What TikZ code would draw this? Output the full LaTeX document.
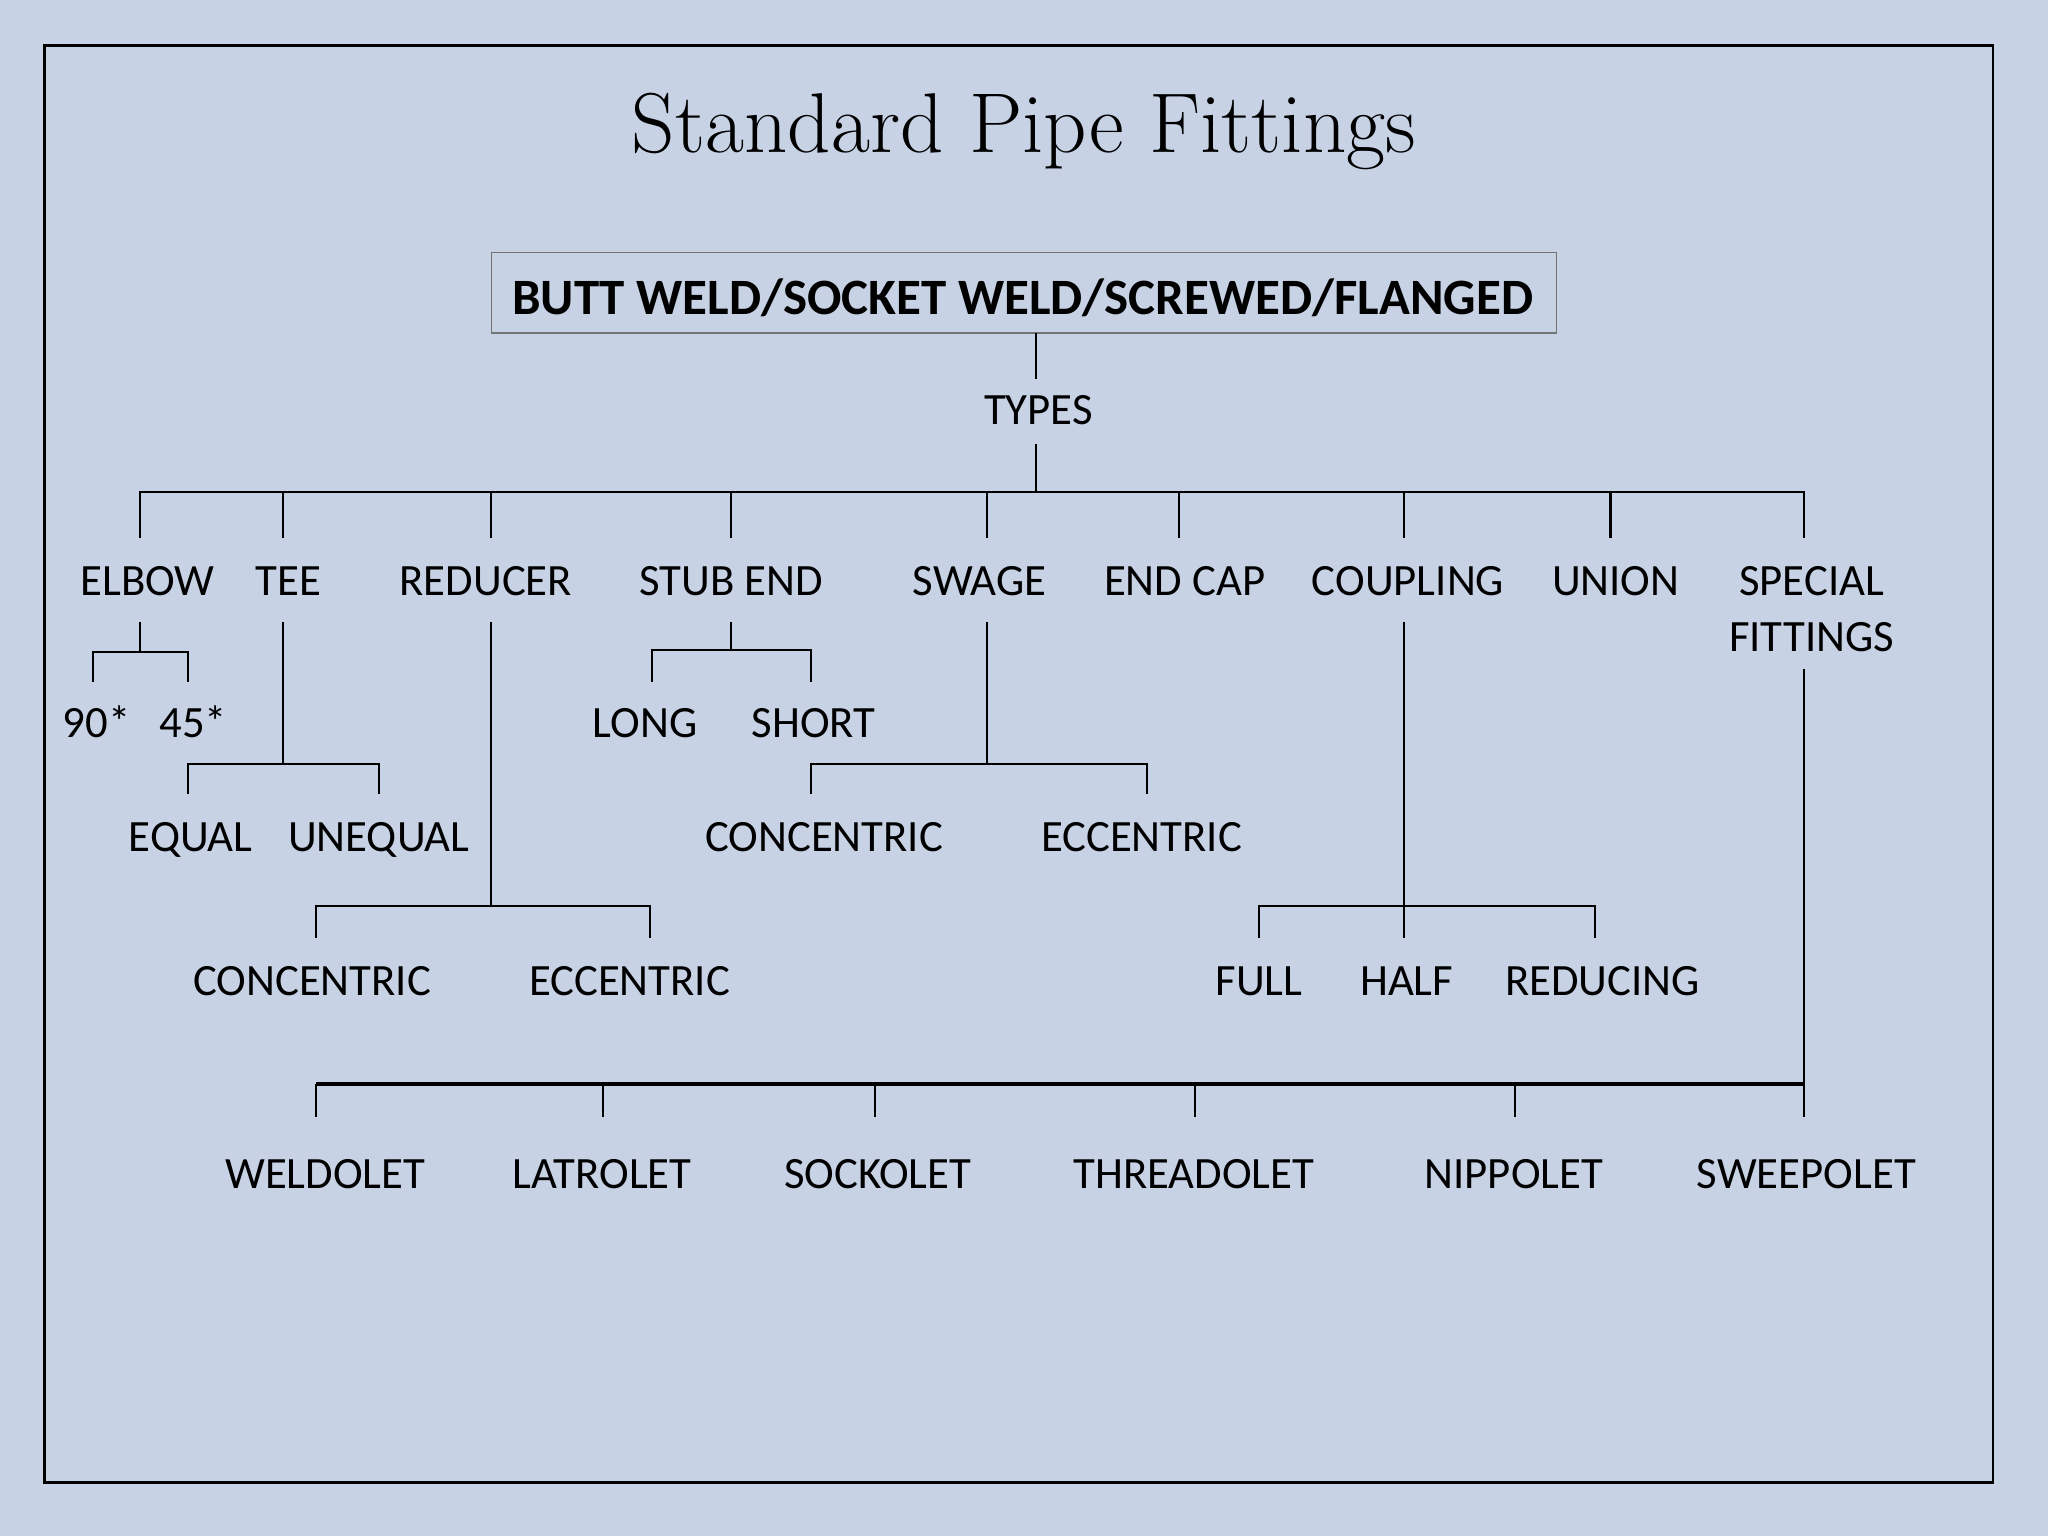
\documentclass[tikz,border=0pt]{standalone}
\usepackage{fontspec}
\newfontfamily\carl{Carlito}
\definecolor{bgblue}{RGB}{199,210,229}
\begin{document}
\begin{tikzpicture}[x=0.02cm,y=-0.02cm,
  lab/.style={font=\carl\fontsize{19.5}{24.4}\selectfont, anchor=base, inner sep=0pt},
  ln/.style={line width=0.9pt, black},
  busln/.style={line width=1.4pt, black}]
\useasboundingbox (0,0) rectangle (1568,1176);
\fill[bgblue] (0,0) rectangle (1568,1176);
\draw[line width=1.1pt] (34,35) rectangle (1526,1135);

\node[anchor=base, inner sep=0pt, font=\fontsize{37}{44}\selectfont] (title) at (784,117) {Standard Pipe Fittings};

\draw[line width=0.5pt, black!55] (376,193) rectangle (1192,255);
\node[lab, font=\carl\bfseries\fontsize{22.2}{26}\selectfont] (top) at (783,241) {BUTT WELD/SOCKET WELD/SCREWED/FLANGED};
\node[lab] (types) at (795,325) {TYPES};

% level 1
\node[lab] (elbow) at (113,456) {ELBOW};
\node[lab] (tee) at (221,456) {TEE};
\node[lab] (reducer) at (372,456) {REDUCER};
\node[lab] (stub) at (560,456) {STUB END};
\node[lab] (swage) at (750,456) {SWAGE};
\node[lab] (endcap) at (907,456) {END CAP};
\node[lab] (coupling) at (1078,456) {COUPLING};
\node[lab] (union) at (1237,456) {UNION};
\node[lab] (special) at (1387,456) {SPECIAL};
\node[lab] (fittings) at (1387,499) {FITTINGS};

% level 2
\node[lab] (e90) at (74,565) {90*};
\node[lab] (e45) at (148,565) {45*};
\node[lab] (long) at (494,565) {LONG};
\node[lab] (short) at (623,565) {SHORT};
\node[lab] (equal) at (146,652) {EQUAL};
\node[lab] (unequal) at (290,652) {UNEQUAL};
\node[lab] (sconc) at (631,652) {CONCENTRIC};
\node[lab] (secc) at (874,652) {ECCENTRIC};
\node[lab] (rconc) at (239,762) {CONCENTRIC};
\node[lab] (recc) at (482,762) {ECCENTRIC};
\node[lab] (full) at (964,762) {FULL};
\node[lab] (half) at (1077,762) {HALF};
\node[lab] (reducing) at (1227,762) {REDUCING};

% special fittings
\node[lab] (weldolet) at (249,910) {WELDOLET};
\node[lab] (latrolet) at (461,910) {LATROLET};
\node[lab] (sockolet) at (672,910) {SOCKOLET};
\node[lab] (threadolet) at (914,910) {THREADOLET};
\node[lab] (nippolet) at (1159,910) {NIPPOLET};
\node[lab] (sweepolet) at (1383,910) {SWEEPOLET};

% spine
\draw[ln] (793,255) -- (793,290);
\draw[ln] (793,340) -- (793,377);
\draw[ln] (107,412) -- (107,377) -- (1381,377) -- (1381,412);
\foreach \x in {217,376,560,756,903,1075,1233}
  \draw[ln] (\x,377) -- (\x,412);

% elbow
\draw[ln] (107,476) -- (107,499);
\draw[ln] (71,522) -- (71,499) -- (144,499) -- (144,522);
% tee
\draw[ln] (217,476) -- (217,585);
\draw[ln] (144,608) -- (144,585) -- (290,585) -- (290,608);
% reducer
\draw[ln] (376,476) -- (376,694);
\draw[ln] (242,718) -- (242,694) -- (498,694) -- (498,718);
% stub end
\draw[ln] (560,476) -- (560,498);
\draw[ln] (499,522) -- (499,498) -- (621,498) -- (621,522);
% swage
\draw[ln] (756,476) -- (756,585);
\draw[ln] (621,608) -- (621,585) -- (878,585) -- (878,608);
% coupling
\draw[ln] (1075,476) -- (1075,718);
\draw[ln] (964,718) -- (964,694) -- (1221,694) -- (1221,718);
% special fittings
\draw[ln] (1381,512) -- (1381,855);
\draw[busln] (242,830) -- (1381,830);
\draw[ln] (242,830) -- (242,855);
\foreach \x in {462,670,915,1160}
  \draw[ln] (\x,830) -- (\x,855);
\end{tikzpicture}
\end{document}
